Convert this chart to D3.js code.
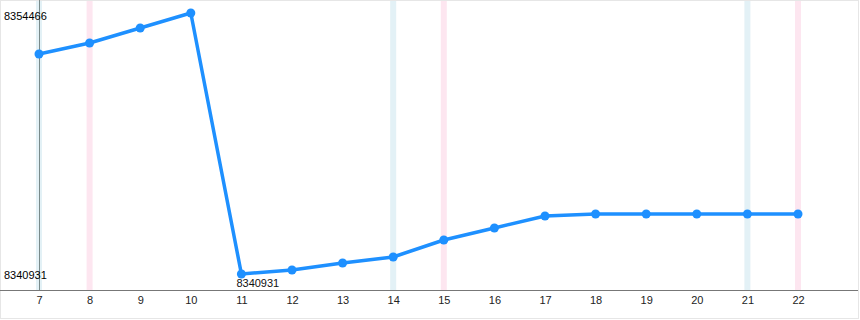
<!DOCTYPE html>
<html>
<meta charset="utf-8">
<head>
<style>
    body { margin: 0; background: #fff; }
    svg { display: block; }
    text { font-family: "Liberation Sans", Arial, sans-serif; font-size: 11px; }
    .band_a { fill: #e3f1f6; }
    .band_b { fill: #fde6f0; }
    .tick text { fill: #222; }
</style>
</head>
<body>
<div id="viz"></div>
<script src="https://cdn.jsdelivr.net/npm/d3@7"></script>
<script>
const width = 860;
const height = 320;

const days = [7, 8, 9, 10, 11, 12, 13, 14, 15, 16, 17, 18, 19, 20, 21, 22];
const values = [8352340, 8352910, 8353688, 8354466, 8340931, 8341138, 8341501, 8341813,
    8342694, 8343316, 8343939, 8344042, 8344042, 8344042, 8344042, 8344042];
const blue_days = [7, 14, 21];
const pink_days = [8, 15, 22];
const y_labels = [8354466, 8340931];

const x = d3.scaleLinear().domain([7, 22]).range([39, 798]);
const y = d3.scaleLinear().domain([8340931, 8354466]).range([274, 13]);

const svg = d3.select("#viz").append("svg")
    .attr("width", width)
    .attr("height", height);

// frame
svg.append("rect")
    .attr("x", 0.5).attr("y", 0.5)
    .attr("width", width - 2).attr("height", height - 2)
    .attr("fill", "none")
    .attr("stroke", "#e6e6e6");

svg.selectAll(".band_a")
    .data(blue_days)
    .enter().append("rect")
    .attr("class", "band_a")
    .attr("x", d => x(d) - 3)
    .attr("y", 1)
    .attr("width", 6)
    .attr("height", 289);

svg.selectAll(".band_b")
    .data(pink_days)
    .enter().append("rect")
    .attr("class", "band_b")
    .attr("x", d => x(d) - 3)
    .attr("y", 1)
    .attr("width", 6)
    .attr("height", 289);

// y axis line
svg.append("line")
    .attr("x1", x(7) + 0.5).attr("x2", x(7) + 0.5)
    .attr("y1", 0).attr("y2", 290)
    .attr("stroke", "#7a8a8a");

// x axis
const xAxis = svg.append("g")
    .attr("transform", "translate(0,290)")
    .call(d3.axisBottom(x).tickValues(days).tickSize(0).tickPadding(6).tickFormat(d3.format("d")));
xAxis.select(".domain").remove();
xAxis.append("line")
    .attr("x1", 0).attr("x2", width - 2)
    .attr("y1", 0.5).attr("y2", 0.5)
    .attr("stroke", "#777");

// y labels
svg.selectAll(".ylabel")
    .data(y_labels)
    .enter().append("text")
    .attr("class", "ylabel")
    .attr("x", 4)
    .attr("y", (d, i) => i == 0 ? 20 : 279)
    .attr("fill", "#000")
    .text(d => d);

const line = d3.line()
    .x((d, i) => x(days[i]))
    .y(d => y(d));

svg.append("path")
    .datum(values)
    .attr("d", line)
    .attr("fill", "none")
    .attr("stroke", "#1e90ff")
    .attr("stroke-width", 3.5)
    .attr("stroke-linejoin", "round");

svg.selectAll(".dot")
    .data(values)
    .enter().append("circle")
    .attr("class", "dot")
    .attr("cx", (d, i) => x(days[i]))
    .attr("cy", d => y(d))
    .attr("r", 4.5)
    .attr("fill", "#1e90ff");

// min label under the lowest point
const minIdx = values.indexOf(d3.min(values));
svg.append("text")
    .attr("x", x(days[minIdx]) - 5)
    .attr("y", y(values[minIdx]) + 13)
    .attr("fill", "#111")
    .text(values[minIdx]);
</script>
</body>
</html>
